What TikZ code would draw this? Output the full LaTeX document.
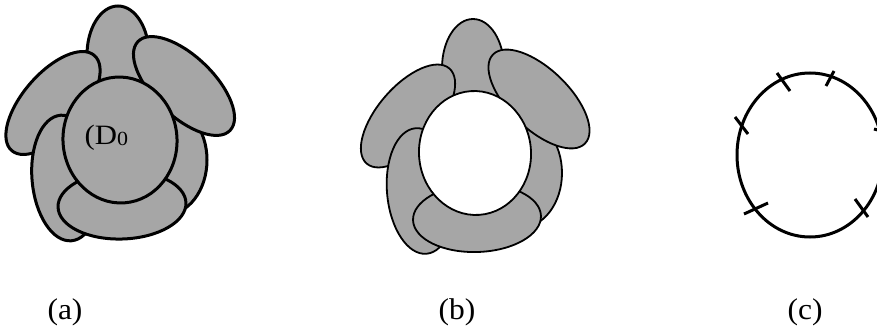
\documentclass[tikz,border=0pt]{standalone}
\usepackage{fontspec}
\setmainfont{Liberation Serif}
\definecolor{blobgray}{RGB}{166,166,166}
\newcommand\petalring{%
  \draw[blob] (165,160) ellipse [x radius=42pt, y radius=55pt];
  \draw[blob] (118,55) ellipse [x radius=31pt, y radius=49pt];
  \draw[blob, rotate around={49:(53,103)}] (53,103) ellipse [x radius=63pt, y radius=30pt];
  \draw[blob, rotate around={-44:(184,86)}] (184,86) ellipse [x radius=64pt, y radius=30pt];
  \draw[blob, rotate around={5:(66,178)}] (66,178) ellipse [x radius=34pt, y radius=63pt];
  \draw[blob, rotate around={2:(122,205)}] (122,205) ellipse [x radius=64pt, y radius=34pt];
}
\begin{document}
\begin{tikzpicture}[x=1pt,y=-1pt,
  blob/.style={fill=blobgray, draw=black},
  hole/.style={fill=white, draw=black},
  tick/.style={line width=3pt},
  caption/.style={anchor=base, inner sep=0pt}]
\useasboundingbox (0,0) rectangle (877,329);
\clip (0,0) rectangle (877,329);
% (a)
\begin{scope}[line width=3pt]
  \petalring
  \draw[blob, rotate around={4:(120,140)}] (120,140) ellipse [x radius=57pt, y radius=63pt];
  \node[anchor=base west, inner sep=0pt] (d0) at (83,144)
    {\scalebox{1.1}[1]{\fontsize{28}{28}\selectfont (D\raisebox{-1.5pt}{\fontsize{20}{20}\selectfont 0}}};
\end{scope}
% (b)
\begin{scope}[shift={(355,13)}, line width=1.8pt]
  \petalring
  \draw[hole, rotate around={4:(120,140)}] (120,140) ellipse [x radius=56pt, y radius=62pt];
\end{scope}
% (c)
\draw[line width=3pt] (810,155) ellipse [x radius=73pt, y radius=82pt];
\draw[tick] (735,117) -- (748,134);
\draw[tick] (777,73) -- (790,91);
\draw[tick] (826,86) -- (834,71);
\draw[tick] (744,214) -- (768,203);
\draw[tick] (855,199) -- (868,217);
\draw[tick] (874,129) -- (896,135);
% captions
\node[caption] (la) at (65,319) {\scalebox{1.05}[1]{\fontsize{30}{30}\selectfont (a)}};
\node[caption] (lb) at (457,319) {\scalebox{1.05}[1]{\fontsize{30}{30}\selectfont (b)}};
\node[caption] (lc) at (805,319) {\scalebox{1.05}[1]{\fontsize{30}{30}\selectfont (c)}};
\end{tikzpicture}
\end{document}
